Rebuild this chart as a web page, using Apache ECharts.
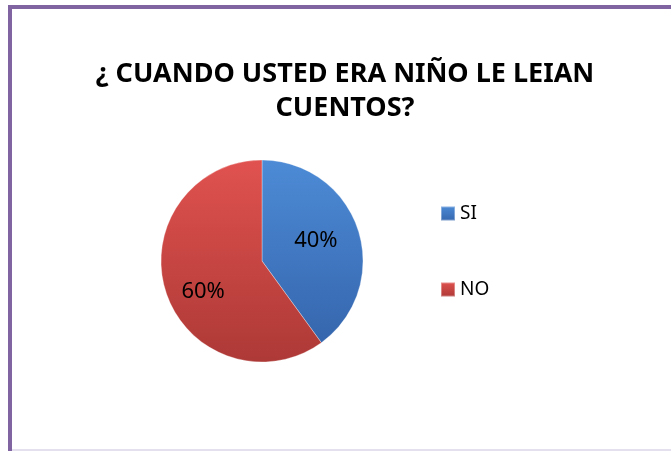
<!DOCTYPE html>
<html><head><meta charset="utf-8">
<script src="https://cdn.jsdelivr.net/npm/echarts@6/dist/echarts.min.js"></script>
<style>html,body{margin:0;padding:0;background:#fff}#c{width:671px;height:451px}</style>
</head><body><div id="c"></div>
<script>
const titleText = '¿ CUANDO USTED ERA NIÑO LE LEIAN\nCUENTOS?';
const categories = ['SI', 'NO'];
const values = [40, 60];
const colorsTop = ['#4d8bd6', '#e0524f'];
const colorsBottom = ['#3566ad', '#ad3936'];
const labelPads = [[0, 0, 0, 6], [0, 16, 0, 0]];
const labelFormats = ['{v|{d}%}\n{s| }', '{s| }\n{v|{d}%}'];
const spacerHeights = [8, 28];
const FONT = '"Noto Sans", sans-serif';

const chart = echarts.init(document.getElementById('c'));
chart.setOption({
  backgroundColor: '#fff',
  title: {
    text: titleText,
    left: 340, textAlign: 'center', top: 52,
    textStyle: { fontFamily: FONT, fontWeight: 'bold', fontSize: 27, color: '#000', lineHeight: 34 }
  },
  legend: {
    orient: 'vertical', left: 440, top: 204, itemGap: 57, padding: 0,
    itemWidth: 14, itemHeight: 14, icon: 'rect',
    textStyle: { fontFamily: FONT, fontSize: 19, color: '#000' },
    data: categories
  },
  graphic: [
    { type: 'rect', shape: { x: 8, y: 5, width: 4, height: 446 }, style: { fill: '#8064a2' }, z: 10 },
    { type: 'rect', shape: { x: 8, y: 5, width: 663, height: 4 }, style: { fill: '#8064a2' }, z: 10 },
    { type: 'rect', shape: { x: 12, y: 449, width: 659, height: 2 }, style: { fill: '#e4e0ee' }, z: 10 }
  ],
  series: [{
    type: 'pie',
    center: [262, 261], radius: [0, 101],
    startAngle: 90, clockwise: true,
    label: { position: 'inner', fontFamily: FONT, fontSize: 22, color: '#000' },
    labelLine: { show: false },
    itemStyle: { borderColor: 'rgba(255,255,255,0.35)', borderWidth: 0.5 },
    emphasis: { disabled: true },
    data: categories.map((c, i) => ({
      name: c, value: values[i],
      label: {
        formatter: labelFormats[i], padding: labelPads[i],
        rich: {
          v: { fontFamily: FONT, fontSize: 22, color: '#000', lineHeight: 26 },
          s: { fontSize: 4, lineHeight: spacerHeights[i] }
        }
      },
      itemStyle: { color: { type: 'linear', x: 0, y: 0, x2: 0, y2: 1, colorStops: [
        { offset: 0, color: colorsTop[i] }, { offset: 1, color: colorsBottom[i] } ] } }
    }))
  }]
});
</script></body></html>
